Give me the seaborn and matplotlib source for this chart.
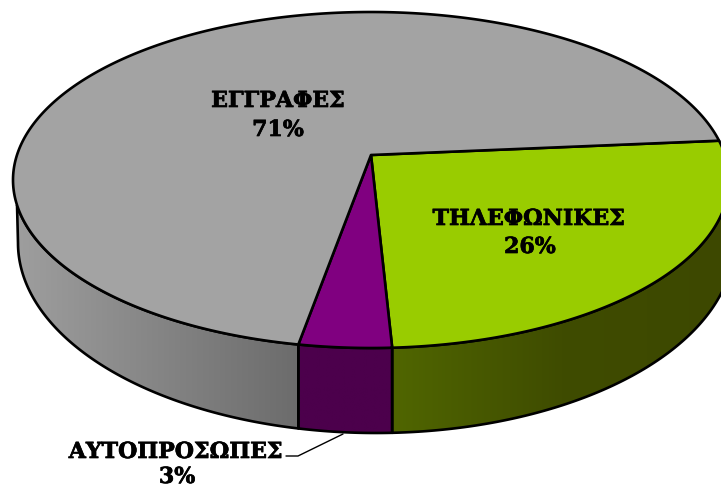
import numpy as np
import matplotlib
matplotlib.use("Agg")
import matplotlib.pyplot as plt
from matplotlib.patches import Polygon
import matplotlib.patheffects as pe
import seaborn as sns

# --- DATA ---
labels = ["ΤΗΛΕΦΩΝΙΚΕΣ", "ΑΥΤΟΠΡΟΣΩΠΕΣ", "ΕΓΓΡΑΦΕΣ"]
values = [26, 3, 71]
pct_labels = ["26%", "3%", "71%"]
top_colors = ["#99CC00", "#800080", "#A3A3A3"]
wall_colors = [["#506600", "#3F4C00", "#3D4800"], ["#4C004C", "#4C004C"], ["#9E9E9E", "#6C6C6C"]]

sns.set_theme(style="white")
plt.rcParams["font.family"] = ["DejaVu Serif"]

fig, ax = plt.subplots(figsize=(7.21, 4.88), dpi=100)
fig.subplots_adjust(0, 0, 1, 1)
ax.set_xlim(0, 721)
ax.set_ylim(488, 0)
ax.axis("off")

# pie geometry in pixels
cx, cy, a, b = 371, 180, 358, 168
bx, by, ba, bb = 376, 243, 358, 190
vertex = (371, 155)
lw = 1.9


def warp(u):
    # slanted view spreads the front of the pie
    d = np.radians(u + 93.6)
    return u + np.degrees(0.183 * np.sin(d) + 0.1085 * np.sin(2 * d))


def top_pt(t):
    t = np.radians(t)
    return np.column_stack([cx + a * np.cos(t), cy - b * np.sin(t)])


def bot_pt(t):
    t = np.radians(t)
    return np.column_stack([bx + ba * np.cos(t), by - bb * np.sin(t)])


def bot_angle(t):
    # angle on the lower rim straight below a point of the upper rim
    x = cx + a * np.cos(np.radians(t))
    return -np.degrees(np.arccos((x - bx) / ba))


# cumulative angles, clockwise from the right side
cum = np.cumsum([0] + values) / sum(values) * 360
u_edges = 5.0 - cum
t_edges = warp(u_edges)

# walls are only seen on the front side
wall_ranges = [(t_edges[1], -6.0, bot_angle(t_edges[1]), -6.0),
               (t_edges[2], t_edges[1], bot_angle(t_edges[2]), bot_angle(t_edges[1])),
               (-171.4, t_edges[2], -180.0, bot_angle(t_edges[2]))]
for (t0, t1, b0, b1), cols in zip(wall_ranges, wall_colors):
    t = np.linspace(t0, t1, 120)
    b_t = np.linspace(b0, b1, 120)
    pts = np.vstack([top_pt(t), bot_pt(b_t)[::-1]])
    poly = Polygon(pts, closed=True, fc="none", ec="black", lw=lw, zorder=2, joinstyle="round")
    ax.add_patch(poly)
    cmap = sns.blend_palette(cols, as_cmap=True)
    x0, x1 = pts[:, 0].min(), pts[:, 0].max()
    im = ax.imshow(np.linspace(0, 1, 256).reshape(1, -1), cmap=cmap, aspect="auto",
                   extent=(x0, x1, pts[:, 1].max(), pts[:, 1].min()), zorder=1)
    im.set_clip_path(poly)
ax.set_xlim(0, 721)
ax.set_ylim(488, 0)

# top faces
for i, col in enumerate(top_colors):
    t = np.linspace(t_edges[i], t_edges[i + 1], 300)
    pts = np.vstack([[vertex], top_pt(t)])
    ax.add_patch(Polygon(pts, closed=True, fc=col, ec="black", lw=lw, zorder=3, joinstyle="round"))

# labels
font = dict(ha="center", va="center", fontweight="bold", fontsize=15.9, color="black", zorder=5,
            path_effects=[pe.withStroke(linewidth=0.5, foreground="black")])
ax.text(278, 101, labels[2], **font)
ax.text(278, 130, pct_labels[2], **font)
ax.text(529, 219, labels[0], **font)
ax.text(530, 247, pct_labels[0], **font)
ax.text(176, 452, labels[1], **font)
ax.text(177, 477, pct_labels[1], **font)

# leader line for the small slice
ax.plot([343, 298, 286], [434, 456, 456], color="black", lw=1.0, zorder=4)

plt.savefig("out.png", dpi=100)
